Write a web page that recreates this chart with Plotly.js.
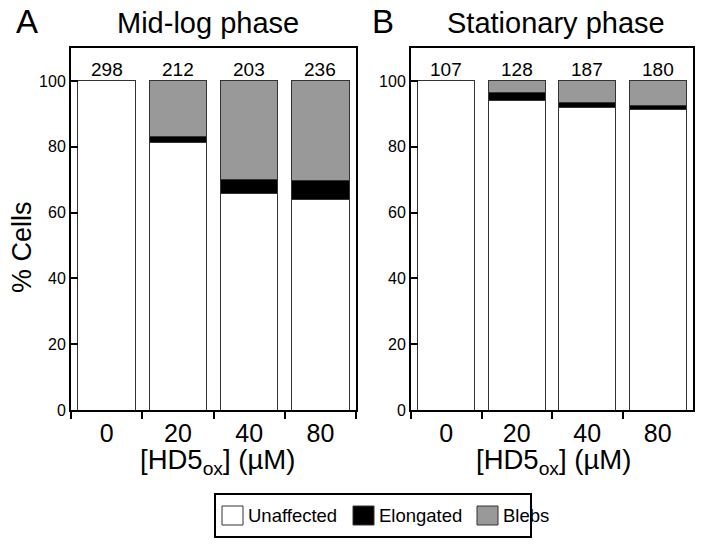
<!DOCTYPE html>
<html>
<head>
<meta charset="utf-8">
<script src="https://cdn.plot.ly/plotly-3.0.1.min.js"></script>
<style>html,body{margin:0;padding:0;background:#fff;}#chart{width:704px;height:547px;}</style>
</head>
<body>
<div id="chart"></div>
<script>
// ---- data ----
const categories = ['0', '20', '40', '80'];
const midUnaffected = [100, 81.2, 65.7, 64.0];
const midElongated  = [0, 1.8, 4.4, 5.7];
const midBlebs      = [0, 17.0, 29.9, 30.3];
const statUnaffected = [100, 94.1, 92.0, 91.3];
const statElongated  = [0, 2.5, 1.4, 1.1];
const statBlebs      = [0, 3.4, 6.6, 7.6];
const midCounts  = [298, 212, 203, 236];
const statCounts = [107, 128, 187, 180];
const seriesNames = ['Unaffected', 'Elongated', 'Blebs'];
const seriesColors = ['#ffffff', '#000000', '#999999'];

const FONT = 'Liberation Sans, Arial, Helvetica, sans-serif';
const barW = 0.81;

function mk(y, i, xa, ya) {
  return {
    type: 'bar', x: categories, y: y, name: seriesNames[i],
    xaxis: xa, yaxis: ya, width: barW, showlegend: false,
    marker: {color: seriesColors[i], line: {color: '#333333', width: 1}},
    hoverinfo: 'skip'
  };
}
const traces = [
  mk(midUnaffected, 0, 'x', 'y'),
  mk(midElongated, 1, 'x', 'y'),
  mk(midBlebs, 2, 'x', 'y'),
  mk(statUnaffected, 0, 'x2', 'y2'),
  mk(statElongated, 1, 'x2', 'y2'),
  mk(statBlebs, 2, 'x2', 'y2')
];

const annotations = [];
const shapes = [];
categories.forEach((c, i) => {
  annotations.push({x: i, y: 100, xref: 'x', yref: 'y', text: String(midCounts[i]), showarrow: false,
    yanchor: 'bottom', yshift: -1, font: {size: 19, color: '#000', family: FONT}});
  annotations.push({x: i, y: 100, xref: 'x2', yref: 'y2', text: String(statCounts[i]), showarrow: false,
    yanchor: 'bottom', yshift: -1, font: {size: 19, color: '#000', family: FONT}});
});
function px(x) { return x / 704; }
function py(y) { return 1 - y / 547; }
annotations.push({x: px(27), y: py(22), xref: 'paper', yref: 'paper', text: 'A', showarrow: false,
  xanchor: 'center', yanchor: 'middle', font: {size: 33, color: '#000', family: FONT}});
annotations.push({x: px(383), y: py(22), xref: 'paper', yref: 'paper', text: 'B', showarrow: false,
  xanchor: 'center', yanchor: 'middle', font: {size: 33, color: '#000', family: FONT}});
annotations.push({x: px(208), y: py(23), xref: 'paper', yref: 'paper', text: 'Mid-log phase', showarrow: false,
  xanchor: 'center', yanchor: 'middle', font: {size: 29, color: '#000', family: FONT}});
annotations.push({x: px(556), y: py(23), xref: 'paper', yref: 'paper', text: 'Stationary phase', showarrow: false,
  xanchor: 'center', yanchor: 'middle', font: {size: 29, color: '#000', family: FONT}});
annotations.push({x: px(22), y: py(247), xref: 'paper', yref: 'paper', text: '% Cells', showarrow: false,
  textangle: -90, xanchor: 'center', yanchor: 'middle', font: {size: 27, color: '#000', family: FONT}});
const xTitle = '[HD5<sub>ox</sub>] (µM)';
annotations.push({x: px(218), y: py(461), xref: 'paper', yref: 'paper', text: xTitle, showarrow: false,
  xanchor: 'center', yanchor: 'middle', font: {size: 27.5, color: '#000', family: FONT}});
annotations.push({x: px(553), y: py(461), xref: 'paper', yref: 'paper', text: xTitle, showarrow: false,
  xanchor: 'center', yanchor: 'middle', font: {size: 27.5, color: '#000', family: FONT}});

// legend (boxed, as in the reference)
shapes.push({type: 'rect', xref: 'paper', yref: 'paper', x0: px(215), x1: px(531), y0: py(537), y1: py(494),
  line: {color: '#000', width: 2}, fillcolor: '#fff'});
const swatchX = [222, 353, 477];
seriesNames.forEach((n, i) => {
  shapes.push({type: 'rect', xref: 'paper', yref: 'paper', x0: px(swatchX[i]), x1: px(swatchX[i] + 21),
    y0: py(525), y1: py(506), line: {color: '#333', width: 1}, fillcolor: seriesColors[i]});
  annotations.push({x: px(swatchX[i] + 24), y: py(515.5), xref: 'paper', yref: 'paper', text: n, showarrow: false,
    xanchor: 'left', yanchor: 'middle', font: {size: 18.5, color: '#000', family: FONT}});
});

function xax(domain) {
  return {
    domain: domain, type: 'category', range: [-0.5, 3.5], fixedrange: true,
    showline: true, linecolor: '#000', linewidth: 2, mirror: true,
    ticks: 'outside', tickson: 'boundaries', ticklen: 7, tickwidth: 2, tickcolor: '#000',
    tickfont: {size: 25, color: '#000', family: FONT}, showgrid: false, zeroline: false
  };
}
function yax(anchor) {
  return {
    domain: [py(410), py(48)], range: [0, 110], anchor: anchor, fixedrange: true,
    tickvals: [0, 20, 40, 60, 80, 100], ticktext: ['0', '20', '40', '60', '80', '100'],
    showline: true, linecolor: '#000', linewidth: 2, mirror: true,
    ticks: 'inside', ticklen: 7, tickwidth: 2, tickcolor: '#000',
    tickfont: {size: 16, color: '#000', family: FONT}, showgrid: false, zeroline: false
  };
}

const layout = {
  width: 704, height: 547,
  margin: {l: 0, r: 0, t: 0, b: 0},
  paper_bgcolor: '#fff', plot_bgcolor: '#fff',
  barmode: 'stack',
  font: {family: FONT, color: '#000'},
  xaxis: Object.assign(xax([px(71), px(356)]), {anchor: 'y'}),
  yaxis: yax('x'),
  xaxis2: Object.assign(xax([px(411), px(693)]), {anchor: 'y2'}),
  yaxis2: yax('x2'),
  showlegend: false,
  annotations: annotations,
  shapes: shapes
};

Plotly.newPlot('chart', traces, layout, {staticPlot: true, displayModeBar: false});
</script>
</body>
</html>
